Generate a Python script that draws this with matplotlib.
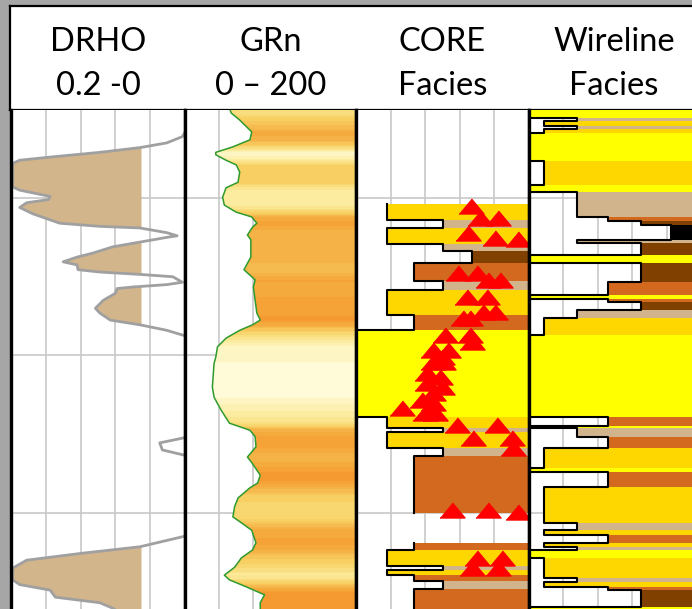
import numpy as np
import matplotlib
matplotlib.use('Agg')
import matplotlib.pyplot as plt
from matplotlib.colors import LinearSegmentedColormap, Normalize
from matplotlib.patches import Rectangle

W, H = 692, 609
TOP, BASE = 994.41, 1026.10
GRID_DEPTHS = [1000, 1010, 1020]

# DRHO log (g/cc), plotted 0.2 -> 0
drho_depth = [994.0, 996.1, 996.5, 996.8, 997.1, 997.4, 997.6, 997.8, 999.3, 999.5,
              999.9, 1000.1, 1000.3, 1000.6, 1001.0, 1001.6, 1001.8, 1001.9, 1002.2, 1002.4,
              1002.5, 1002.8, 1003.1, 1003.5, 1003.75, 1004.05, 1004.25, 1004.55, 1004.7, 1004.85,
              1005.0, 1005.35, 1005.5, 1005.65, 1005.75, 1006.05, 1006.5, 1007.0, 1007.3, 1007.75,
              1008.05, 1008.4, 1008.7, 1009.0, 1015.0, 1015.25, 1015.55, 1016.0, 1016.3, 1016.6,
              1021.3, 1021.5, 1022.15, 1022.55, 1023.0, 1023.5, 1024.25, 1024.55, 1024.9, 1025.35,
              1025.7, 1026.05, 1026.5]
drho_val = [-0.02, 0.003, 0.021, 0.052, 0.098, 0.155, 0.190, 0.198, 0.198, 0.190,
            0.155, 0.157, 0.182, 0.190, 0.175, 0.144, 0.098, 0.052, 0.021, 0.009,
            0.021, 0.052, 0.083, 0.106, 0.124, 0.140, 0.124, 0.123, 0.098, 0.052,
            0.014, 0.003, 0.021, 0.060, 0.078, 0.080, 0.094, 0.103, 0.098, 0.086,
            0.052, 0.021, 0.003, -0.02, -0.02, 0.003, 0.029, 0.026, 0.003, -0.02,
            -0.02, 0.002, 0.052, 0.117, 0.182, 0.198, 0.198, 0.190, 0.155, 0.149,
            0.098, 0.083, 0.070]
DRHO_CUTOFF = 0.05

# normalised gamma ray (API)
gr_depth = [994.3, 994.6, 995.05, 995.8, 996.3, 996.75, 997.1, 997.25, 997.6, 997.9,
            998.35, 999.0, 999.35, 999.95, 1000.45, 1000.9, 1001.2, 1001.6, 1001.85, 1002.35,
            1002.65, 1003.75, 1004.15, 1004.55, 1004.75, 1005.2, 1005.65, 1006.5, 1007.3, 1007.75,
            1008.05, 1008.4, 1008.9, 1009.45, 1010.1, 1010.5, 1012.0, 1012.65, 1013.45, 1014.3,
            1014.75, 1015.15, 1015.8, 1016.45, 1016.8, 1017.6, 1018.1, 1018.4, 1019.05, 1019.6,
            1020.25, 1020.55, 1021.1, 1021.9, 1022.35, 1022.85, 1023.45, 1023.95, 1024.25, 1024.7,
            1025.2, 1025.7, 1026.05, 1026.5]
gr_val = [52, 54, 64, 78, 76, 56, 36, 36, 48, 60,
          64, 62, 48, 44, 46, 60, 78, 84, 79, 73,
          77, 77, 73, 69, 73, 82, 80, 82, 84, 88,
          79, 64, 48, 38, 36, 34, 32, 34, 42, 52,
          76, 82, 83, 73, 78, 88, 85, 76, 62, 58,
          56, 64, 78, 83, 79, 66, 58, 46, 52, 72,
          93, 88, 88, 88]

# core description facies
core_top = [1000.4, 1001.4, 1001.9, 1002.9, 1003.35, 1004.15, 1005.3, 1005.85, 1007.45, 1008.4,
            1013.9, 1014.6, 1014.85, 1015.9, 1016.4,
            1021.9, 1022.35, 1023.35, 1023.6, 1023.95, 1024.35, 1024.85]
core_base = [1001.4, 1001.9, 1002.9, 1003.35, 1004.15, 1005.3, 1005.85, 1007.45, 1008.4, 1013.9,
             1014.6, 1014.85, 1015.9, 1016.4, 1020.0,
             1022.35, 1023.35, 1023.6, 1023.95, 1024.35, 1024.85, 1026.5]
core_facies = ['gold', 'tan', 'gold', 'tan', 'dkbrown', 'orange', 'tan', 'gold', 'orange', 'yellow',
               'gold', 'tan', 'gold', 'tan', 'orange',
               'orange', 'gold', 'tan', 'gold', 'orange', 'tan', 'orange']

# wireline-predicted facies
wl_top = [994.0, 994.94, 995.11, 995.43, 995.64, 995.85, 997.65, 999.17, 999.6, 1001.19,
          1001.44, 1001.71, 1002.67, 1002.84, 1003.62, 1004.11, 1005.31, 1006.16, 1006.41, 1006.58,
          1007.11, 1007.64, 1008.7, 1013.89, 1014.48, 1014.62, 1015.19, 1015.89, 1017.16, 1017.38,
          1018.33, 1020.62, 1021.08, 1021.4, 1021.89, 1022.18, 1022.35, 1022.88, 1024.15, 1024.36,
          1024.68, 1024.89, 1025.95]
wl_base = wl_top[1:] + [1026.5]
wl_facies = ['yellow', 'tan', 'gold', 'tan', 'gold', 'yellow', 'gold', 'yellow', 'tan', 'orange',
             'dkbrown', 'black', 'tan', 'dkbrown', 'yellow', 'dkbrown', 'orange', 'yellow', 'orange', 'dkbrown',
             'tan', 'gold', 'yellow', 'orange', 'yellow', 'tan', 'orange', 'gold', 'yellow', 'orange',
             'gold', 'tan', 'gold', 'orange', 'gold', 'tan', 'yellow', 'gold', 'tan', 'gold',
             'orange', 'dkbrown', 'yellow']

# core sample markers
tri_x = [0.665, 0.717, 0.821, 0.647, 0.803, 0.936, 0.590, 0.699, 0.763, 0.832,
         0.642, 0.757, 0.734, 0.803, 0.618, 0.659, 0.514, 0.659, 0.671, 0.445,
         0.532, 0.497, 0.445, 0.503, 0.410, 0.486, 0.410, 0.497, 0.445, 0.382,
         0.445, 0.266, 0.428, 0.399, 0.457, 0.584, 0.815, 0.676, 0.902, 0.908,
         0.555, 0.763, 0.936, 0.699, 0.844, 0.671, 0.821]
tri_depth = [1000.51, 1001.27, 1001.27, 1002.22, 1002.54, 1002.60, 1004.76, 1004.76, 1005.21, 1005.21,
             1006.29, 1006.29, 1007.24, 1007.24, 1007.62, 1007.62, 1008.70, 1008.70, 1009.14, 1009.65,
             1009.65, 1010.10, 1010.41, 1010.41, 1011.11, 1011.37, 1011.75, 1012.00, 1012.38, 1012.83,
             1013.02, 1013.33, 1013.46, 1013.65, 1013.65, 1014.41, 1014.41, 1015.24, 1015.24, 1015.87,
             1019.81, 1019.81, 1019.94, 1022.86, 1022.86, 1023.49, 1023.49]

headers = [('DRHO', '0.2 -0'), ('GRn', '0 – 200'), ('CORE', 'Facies'), ('Wireline', 'Facies')]

FACIES_COLORS = {'yellow': '#FFFF00', 'gold': '#FFD700', 'orange': '#D2691E',
                 'tan': '#D2B48C', 'dkbrown': '#804000', 'black': '#000000'}
CORE_OFFSET = {'yellow': 0.0, 'gold': 0.177, 'orange': 0.335, 'tan': 0.50, 'dkbrown': 0.67}
WL_OFFSET = {'yellow': 0.0, 'gold': 0.088, 'tan': 0.28, 'orange': 0.46, 'dkbrown': 0.65, 'black': 0.825}

GRID_COLOR = '#C8C8C8'

plt.rcParams['font.family'] = ['Lato', 'DejaVu Sans']

fig = plt.figure(figsize=(W / 100, H / 100), dpi=100, facecolor='#A6A6A6')
fig.patches.append(Rectangle((10 / W, 0), 1, 1 - 6 / H, transform=fig.transFigure,
                             facecolor='white', edgecolor='none', zorder=-10))


def track_axes(x0, x1):
    ax = fig.add_axes([x0 / W, 0, (x1 - x0) / W, 1 - 110 / H])
    ax.set_ylim(BASE, TOP)
    ax.set_xticks([])
    ax.set_yticks([])
    for side in ('top', 'bottom'):
        ax.spines[side].set_visible(False)
    for side in ('left', 'right'):
        ax.spines[side].set_linewidth(2.4)
        ax.spines[side].set_color('black')
        ax.spines[side].set_zorder(6)
    return ax


def add_grid(ax, xs):
    for x in xs:
        ax.axvline(x, color=GRID_COLOR, lw=1.2, zorder=0)
    for d in GRID_DEPTHS:
        ax.axhline(d, color=GRID_COLOR, lw=1.2, zorder=0)


def draw_facies(ax, tops, bases, facies, offsets):
    for t, b, f in zip(tops, bases, facies):
        ax.fill_betweenx([t, b], offsets[f], 1.0, color=FACIES_COLORS[f], lw=0, zorder=2)
    # stepped outline, broken wherever there is a gap in the record
    xs, ys, prev = [], [], None
    for t, b, f in zip(tops, bases, facies):
        if prev is not None and abs(t - prev) > 1e-6:
            ax.plot(xs, ys, color='black', lw=1.5, zorder=3)
            xs, ys = [], []
        xs += [offsets[f], offsets[f]]
        ys += [t, b]
        prev = b
    ax.plot(xs, ys, color='black', lw=1.5, zorder=3)
    ax.set_xlim(0, 1)
    ax.set_ylim(BASE, TOP)


# header box
hax = fig.add_axes([10 / W, 1 - 110 / H, 1.2, (110 - 6) / H])
hax.set_xticks([])
hax.set_yticks([])
for s in hax.spines.values():
    s.set_linewidth(1.6)
centers = [98, 270.5, 442.5, 614]
for cx, (l1, l2) in zip(centers, headers):
    fig.text(cx / W, 1 - 42 / H, l1, ha='center', va='center', fontsize=23.5)
    fig.text(cx / W, 1 - 86 / H, l2, ha='center', va='center', fontsize=23.5)

# DRHO track
ax1 = track_axes(11, 185)
ax1.set_xlim(0.2, 0.0)
add_grid(ax1, [0.16, 0.12, 0.08, 0.04])
dd = np.array(drho_depth)
dv = np.array(drho_val)
ax1.fill_betweenx(dd, dv, DRHO_CUTOFF, where=dv >= DRHO_CUTOFF, interpolate=True,
                  color='#D3B58B', lw=0, zorder=1)
ax1.plot(dv, dd, color='#A0A0A0', lw=2.0, zorder=2)
ax1.set_ylim(BASE, TOP)

# GR track with value-shaded fill
ax2 = track_axes(185, 356)
ax2.set_xlim(0, 200)
add_grid(ax2, [40, 80, 120, 160])
gd = np.array(gr_depth)
gv = np.array(gr_val)
poly = ax2.fill_betweenx(gd, gv, 200, facecolor='none', edgecolor='none')
gr_cmap = LinearSegmentedColormap.from_list(
    'gr', ['#FFFAD8', '#FCEB9C', '#F8D468', '#F6B448', '#F59A30'], N=14)
rows = np.linspace(TOP, BASE, 400)
shade = np.interp(rows, gd, gv)
img = ax2.imshow(shade[:, None], cmap=gr_cmap, norm=Normalize(30, 90), aspect='auto',
                 extent=[0, 200, BASE, TOP], interpolation='nearest', zorder=1)
img.set_clip_path(poly.get_paths()[0], transform=ax2.transData)
ax2.plot(gv, gd, color='#2E9B2E', lw=1.1, zorder=3)
ax2.set_xlim(0, 200)
ax2.set_ylim(BASE, TOP)

# core facies track
ax3 = track_axes(356, 529)
add_grid(ax3, [0.2, 0.4, 0.6, 0.8])
draw_facies(ax3, core_top, core_base, core_facies, CORE_OFFSET)
ax3.plot(tri_x, tri_depth, linestyle='none', color='#FF0000', markersize=18, zorder=4,
         marker=[(-1, -0.6), (1, -0.6), (0, 0.6)])

# wireline facies track
ax4 = track_axes(529, 701)
add_grid(ax4, [0.2, 0.4, 0.6, 0.8])
draw_facies(ax4, wl_top, wl_base, wl_facies, WL_OFFSET)

fig.savefig('out.png', dpi=100, facecolor=fig.get_facecolor())
